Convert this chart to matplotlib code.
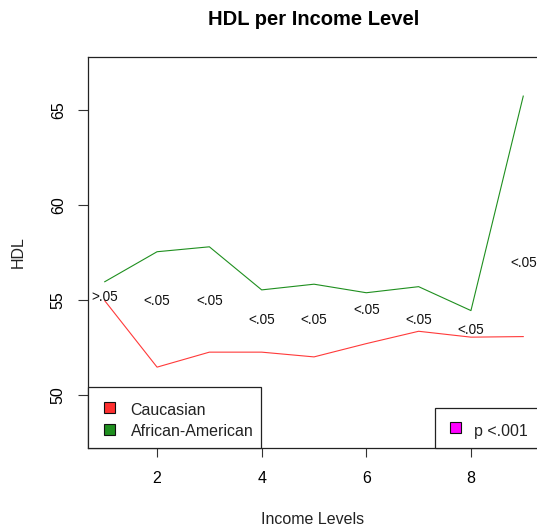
import matplotlib
matplotlib.use("Agg")
import matplotlib.pyplot as plt
from matplotlib.patches import Rectangle

plt.rcParams['font.family'] = ['Liberation Sans', 'DejaVu Sans']

# Mean HDL by income level for each group
income_levels = [1, 2, 3, 4, 5, 6, 7, 8, 9]
hdl_caucasian = [54.96, 51.46, 52.25, 52.25, 52.0, 52.7, 53.35, 53.04, 53.07]
hdl_african_american = [55.96, 57.54, 57.8, 55.53, 55.83, 55.38, 55.7, 54.44, 65.74]

# Significance annotations and their heights
p_labels = [">.05", "<.05", "<.05", "<.05", "<.05", "<.05", "<.05", "<.05", "<.05"]
p_label_y = [55.17, 54.95, 54.95, 53.95, 53.95, 54.46, 53.95, 53.42, 56.93]

x_ticks = [2, 4, 6, 8]
y_ticks = [50, 55, 60, 65]

W, H = 537, 531
fig = plt.figure(figsize=(W / 100, H / 100), dpi=100)
ax = fig.add_axes([88 / W, 83 / H, 452 / W, 391 / H])

ax.plot(income_levels, hdl_caucasian, color='#ff3a3a', lw=0.8)
ax.plot(income_levels, hdl_african_american, color='#1f8f1f', lw=0.8)

for x, y, s in zip(income_levels, p_label_y, p_labels):
    ax.text(x, y, s, ha='center', va='center', fontsize=9.8, color='#111111')

ax.set_xlim(0.68, 9.32)
ax.set_ylim(47.2, 67.8)
ax.set_xticks(x_ticks)
ax.set_yticks(y_ticks)
ax.tick_params(axis='x', length=6.5, width=0.8, pad=10, labelsize=11.5, color='#333333')
ax.tick_params(axis='y', length=7, width=0.8, pad=9, labelsize=11.5, color='#333333')
plt.setp(ax.get_yticklabels(), rotation=90, va='center')
for sp in ax.spines.values():
    sp.set_linewidth(0.9)
    sp.set_color('#222222')

fig.text(314 / W, 1 - 25 / H, "HDL per Income Level", ha='center', va='baseline',
         fontsize=14.5, fontweight='bold')
fig.text(312.7 / W, 1 - 524 / H, "Income Levels", ha='center', va='baseline', fontsize=11.5,
         color='#222222')
fig.text(18.3 / W, 1 - 252 / H, "HDL", ha='center', va='center', rotation=90, fontsize=11.5,
         color='#222222')

# Group legend (lower left)
ax.add_patch(Rectangle((0, 0), 0.383, 0.156, transform=ax.transAxes, facecolor='white',
                       edgecolor='#222222', lw=0.9, zorder=5, clip_on=False))
sq_w, sq_h = 11 / 452, 11 / 391
for yc, yb, col, name in [(0.1036, 0.0844, '#ff3030', 'Caucasian'),
                          (0.048, 0.0315, '#1f8f1f', 'African-American')]:
    ax.add_patch(Rectangle((0.0476 - sq_w / 2, yc - sq_h / 2), sq_w, sq_h, transform=ax.transAxes,
                           facecolor=col, edgecolor='#111111', lw=0.8, zorder=6))
    ax.text(0.0945, yb, name, transform=ax.transAxes, ha='left', va='baseline',
            fontsize=11.5, color='#222222', zorder=7)

# Significance legend (lower right)
ax.add_patch(Rectangle((0.768, 0), 0.3, 0.1026, transform=ax.transAxes, facecolor='white',
                       edgecolor='#222222', lw=0.9, zorder=5, clip_on=False))
ax.add_patch(Rectangle((0.8137 - sq_w / 2, 0.0519 - sq_h / 2), sq_w, sq_h, transform=ax.transAxes,
                       facecolor='#ff00ff', edgecolor='#111111', lw=0.8, zorder=6))
ax.text(0.8546, 0.0307, "p <.001", transform=ax.transAxes, ha='left', va='baseline',
        fontsize=11.5, color='#222222', zorder=7)

fig.savefig("out.png", dpi=100)
